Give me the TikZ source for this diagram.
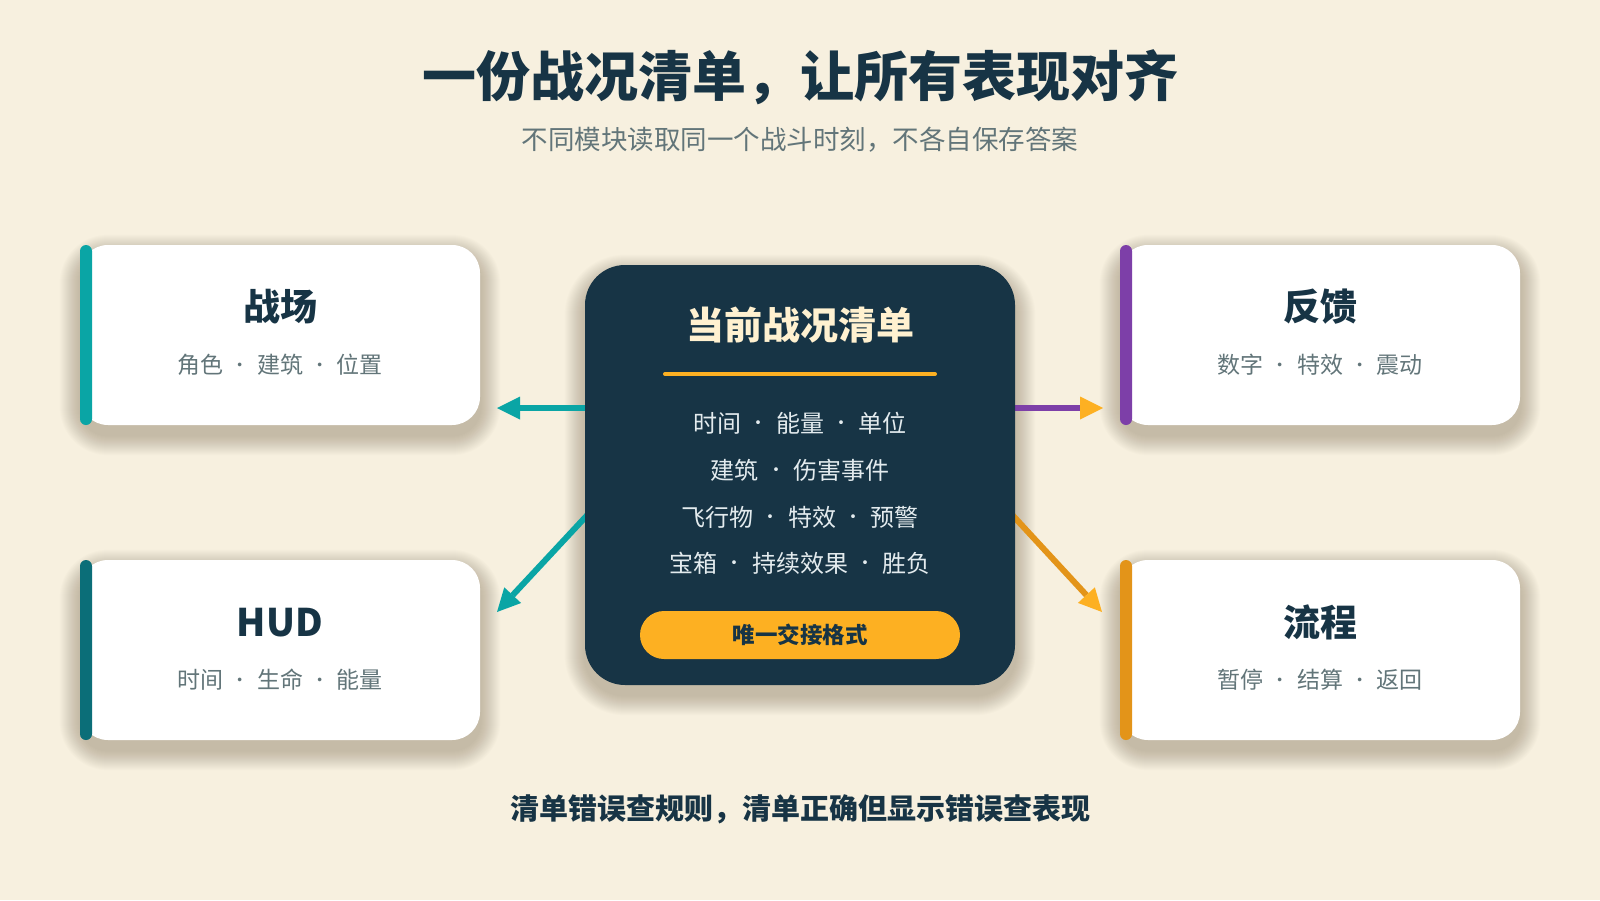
\documentclass[tikz,border=0pt]{standalone}
\usepackage{fontspec}
\usepackage{graphicx}
\setmainfont{Noto Sans CJK SC}
\usetikzlibrary{arrows.meta,calc}
\definecolor{bgc}{HTML}{F7F0DF}
\definecolor{navy}{HTML}{173445}
\definecolor{cteal}{HTML}{0AA5A5}
\definecolor{dteal}{HTML}{0B6E78}
\definecolor{cpurp}{HTML}{7D3FA8}
\definecolor{corng}{HTML}{E39419}
\definecolor{amber}{HTML}{FDB022}
\definecolor{subg}{HTML}{627579}
\definecolor{cream}{HTML}{FFF1D0}
\definecolor{lightt}{HTML}{E3EBEE}
\definecolor{shadc}{HTML}{5A4A30}
\newsavebox\mdbox
\newcommand\mdot{\sbox\mdbox{·}\makebox[\wd\mdbox]{\raisebox{0.1em}{\scalebox{0.75}{·}}}}
\pgfdeclarelayer{shadowl}
\pgfsetlayers{shadowl,main}
\newcommand\softshadow[2]{%
  \begin{pgfonlayer}{shadowl}
  \foreach \i in {1,...,20}{%
    \pgfmathsetmacro\dd{\i*1.0}%
    \pgfmathsetmacro\rr{#2+\i*1.0}%
    \fill[shadc, opacity=0.015, rounded corners=\rr pt]
      ($(#1.south west)+(-\dd,\dd+10)$) rectangle ($(#1.north east)+(\dd,-\dd+10)$);
  }
  \end{pgfonlayer}}
\tikzset{
  card/.style={draw=none, fill=white, rounded corners=28pt, minimum width=400pt, minimum height=180pt, inner sep=0pt},
  cbar/.style={fill=#1, rounded corners=6pt, minimum width=12pt, minimum height=180pt, inner sep=0pt, anchor=west},
  ctitle/.style={text=navy, font=\fontsize{37}{42}\selectfont\bfseries, inner sep=0pt},
  csub/.style={text=subg, font=\fontsize{23}{28}\selectfont, inner sep=0pt},
  hub/.style={fill=navy, rounded corners=40pt, minimum width=430pt, minimum height=420pt, inner sep=0pt},
  hubtitle/.style={text=cream, font=\fontsize{38}{44}\selectfont\bfseries, inner sep=0pt},
  hubline/.style={text=lightt, font=\fontsize{24}{28}\selectfont, inner sep=0pt},
  pill/.style={fill=amber, rounded corners=24pt, minimum width=320pt, minimum height=48pt, inner sep=0pt,
    text=navy, font=\fontsize{22.5}{26}\selectfont\bfseries},
  conn/.style={line width=6pt},
  tipc/.style={-{Triangle[length=23pt,width=23pt,line width=0pt,color=#1]}}
}
\begin{document}
\begin{tikzpicture}[x=1pt,y=-1pt]
\begin{pgfonlayer}{shadowl}
\fill[bgc] (0,0) rectangle (1600,900);
\end{pgfonlayer}
\useasboundingbox (0,0) rectangle (1600,900);

% titles
\node[text=navy, font=\fontsize{54}{60}\selectfont\bfseries, inner sep=0pt] (title) at (800,77) {一份战况清单，让所有表现对齐};
\node[text=subg, font=\fontsize{26.5}{30}\selectfont, inner sep=0pt] (subtitle) at (800,140) {不同模块读取同一个战斗时刻，不各自保存答案};

% cards
\node[card] (c1) at (280,335) {};
\softshadow{c1}{28}
\node[cbar=cteal] (b1) at (c1.west) {};
\node[ctitle] (t1) at (280,307) {战场};
\node[csub] (s1) at (280,365) {角色 \mdot{} 建筑 \mdot{} 位置};

\node[card] (c2) at (280,650) {};
\softshadow{c2}{28}
\node[cbar=dteal] (b2) at (c2.west) {};
\node[ctitle, font=\fontsize{38}{44}\selectfont\bfseries] (t2) at (280,623) {HUD};
\node[csub] (s2) at (280,680) {时间 \mdot{} 生命 \mdot{} 能量};

\node[card] (c3) at (1320,335) {};
\softshadow{c3}{28}
\node[cbar=cpurp] (b3) at (c3.west) {};
\node[ctitle] (t3) at (1320,307) {反馈};
\node[csub] (s3) at (1320,365) {数字 \mdot{} 特效 \mdot{} 震动};

\node[card] (c4) at (1320,650) {};
\softshadow{c4}{28}
\node[cbar=corng] (b4) at (c4.west) {};
\node[ctitle] (t4) at (1320,622) {流程};
\node[csub] (s4) at (1320,680) {暂停 \mdot{} 结算 \mdot{} 返回};

% connectors (drawn before hub so that the hub covers their start)
\coordinate (e1) at (497,408);
\coordinate (e2) at (497,612);
\coordinate (e3) at (1103,408);
\coordinate (e4) at (1102,612);
\coordinate (h1) at (700,408);
\coordinate (h3) at (900,408);
\coordinate (s2c) at (620,480);
\coordinate (s4c) at (980,480);
\draw[conn, cteal, tipc=cteal] (h1) -- (e1);
\draw[conn, cpurp, tipc=amber] (h3) -- (e3);
\draw[conn, cteal, tipc=cteal] (s2c) -- (e2);
\draw[conn, corng, tipc=amber] (s4c) -- (e4);

% hub
\node[hub] (hub) at (800,475) {};
\softshadow{hub}{40}
\node[hubtitle] (ht) at (800,325) {当前战况清单};
\coordinate (ul) at (665,374);
\coordinate (ur) at (935,374);
\draw[amber, line width=4pt, line cap=round] (ul) -- (ur);
\node[hubline] (l1) at (800,423) {时间 \mdot{} 能量 \mdot{} 单位};
\node[hubline] (l2) at (800,470) {建筑 \mdot{} 伤害事件};
\node[hubline] (l3) at (800,517) {飞行物 \mdot{} 特效 \mdot{} 预警};
\node[hubline] (l4) at (800,563) {宝箱 \mdot{} 持续效果 \mdot{} 胜负};
\node[pill] (pill) at (800,635) {唯一交接格式};

% footer
\node[text=navy, font=\fontsize{29}{34}\selectfont\bfseries, inner sep=0pt] (foot) at (800,809) {清单错误查规则，清单正确但显示错误查表现};
\end{tikzpicture}
\end{document}
